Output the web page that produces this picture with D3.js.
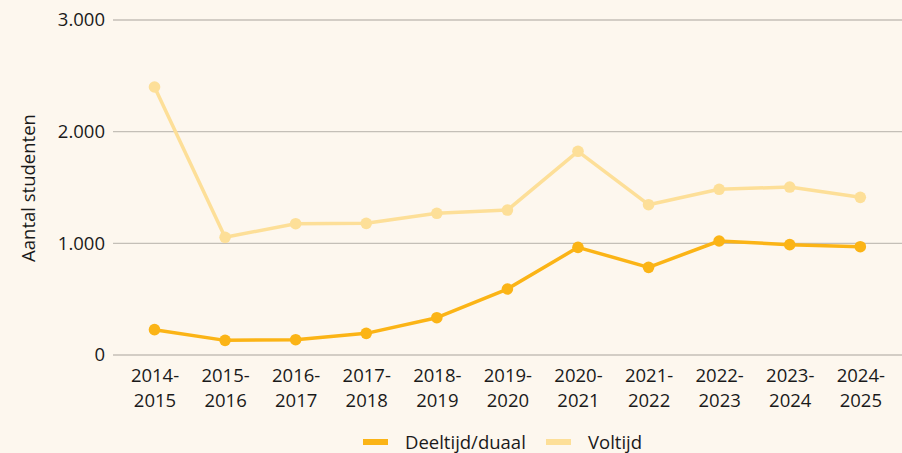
<!DOCTYPE html>
<html><head><meta charset="utf-8">
<script src="https://cdn.jsdelivr.net/npm/d3@7"></script>
<style>
html,body{margin:0;padding:0;background:#fdf7ee;}
text{font-family:"Open Sans","Noto Sans",sans-serif;fill:#1a1a1a;}
</style></head>
<body>
<svg id="chart" width="902" height="453"></svg>
<script>
const categories = ["2014-2015","2015-2016","2016-2017","2017-2018","2018-2019","2019-2020","2020-2021","2021-2022","2022-2023","2023-2024","2024-2025"];
const deeltijd = [227,131,137,194,334,591,964,785,1021,988,970];
const voltijd = [2400,1054,1176,1179,1269,1298,1824,1346,1484,1504,1412];
const yTicks = [0,1000,2000,3000];
const seriesNames = ["Deeltijd/duaal","Voltijd"];
const colors = ["#fbb416","#fddf98"];

const svg = d3.select("#chart");
svg.append("rect").attr("width",902).attr("height",453).attr("fill","#fdf7ee");

const x = d3.scalePoint().domain(categories).range([154.5,860.3]);
const y = d3.scaleLinear().domain([0,3000]).range([355,20]);
const fmt = v => d3.format(",")(v).replace(/,/g,".");
const FS = 18.5;

// gridlines
svg.append("g").selectAll("line").data(yTicks).join("line")
  .attr("x1",113).attr("x2",902)
  .attr("y1",d=>y(d)).attr("y2",d=>y(d))
  .attr("stroke","#c4bfb7").attr("stroke-width",1.3);

// y axis labels
const yAxis = d3.axisLeft(y).tickValues(yTicks).tickFormat(fmt).tickSize(0).tickPadding(0);
const gy = svg.append("g").attr("transform","translate(105,0)").call(yAxis);
gy.select(".domain").remove();
gy.selectAll("text").attr("font-size",FS).attr("fill","#1a1a1a")
  .attr("font-family","'Open Sans','Noto Sans',sans-serif");

// y title
svg.append("text").attr("transform","translate(35,188) rotate(-90)")
  .attr("text-anchor","middle").attr("font-size",FS).text("Aantal studenten");

// x axis labels (two lines)
const xAxis = d3.axisBottom(x).tickSize(0).tickFormat("");
const gx = svg.append("g").attr("transform","translate(0,355)").call(xAxis);
gx.select(".domain").remove();
gx.selectAll(".tick").each(function(d){
  const parts = d.split("-");
  const t = d3.select(this).append("text").attr("text-anchor","middle")
    .attr("font-size",FS).attr("fill","#1a1a1a")
    .attr("font-family","'Open Sans','Noto Sans',sans-serif");
  t.append("tspan").attr("x",0).attr("y",27).text(parts[0]+"-");
  t.append("tspan").attr("x",0).attr("y",52).text(parts[1]);
});

// lines
const line = d3.line().x((d,i)=>x(categories[i])).y(d=>y(d));
[[voltijd,colors[1]],[deeltijd,colors[0]]].forEach(([data,c])=>{
  svg.append("path").datum(data).attr("d",line).attr("fill","none")
    .attr("stroke",c).attr("stroke-width",3.5).attr("stroke-linejoin","round");
  svg.append("g").selectAll("circle").data(data).join("circle")
    .attr("cx",(d,i)=>x(categories[i])).attr("cy",d=>y(d)).attr("r",5.8).attr("fill",c);
});

// legend
const legend = [{name:seriesNames[0],c:colors[0],x:363},{name:seriesNames[1],c:colors[1],x:546}];
legend.forEach(l=>{
  svg.append("line").attr("x1",l.x).attr("x2",l.x+25).attr("y1",442).attr("y2",442)
    .attr("stroke",l.c).attr("stroke-width",6);
  svg.append("text").attr("x",l.x+42).attr("y",449).attr("font-size",FS).text(l.name);
});
</script>
</body></html>
